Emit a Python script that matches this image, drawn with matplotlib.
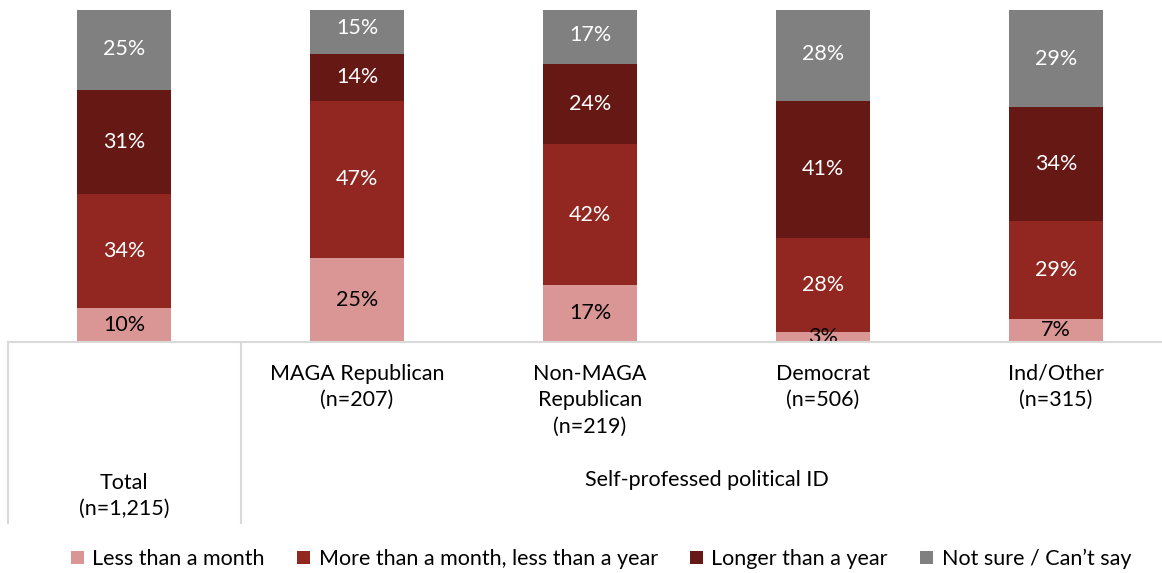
import matplotlib.pyplot as plt
from matplotlib.lines import Line2D
import numpy as np

plt.rcParams['font.family'] = ['Lato', 'DejaVu Sans']

# data
groups = ["Total\n(n=1,215)", "MAGA Republican\n(n=207)", "Non-MAGA\nRepublican\n(n=219)",
          "Democrat\n(n=506)", "Ind/Other\n(n=315)"]
series = ["Less than a month", "More than a month, less than a year",
          "Longer than a year", "Not sure / Can\u2019t say"]
less_month = [10, 25, 17, 3, 7]
month_year = [34, 47, 42, 28, 29]
over_year = [31, 14, 24, 41, 34]
not_sure = [25, 15, 17, 28, 29]
group_title = "Self-professed political ID"

colors = ["#DA9694", "#922620", "#661814", "#808080"]
text_colors = ["black", "white", "white", "white"]
fs = 15.5

W, H = 1162, 573
fig = plt.figure(figsize=(W / 100, H / 100), dpi=100)
ax = fig.add_axes([7.5 / W, (H - 342) / H, 1165 / W, 332 / H])

x = np.arange(len(groups))
bottom = np.zeros(len(groups))
for vals, name, c, tc in zip([less_month, month_year, over_year, not_sure], series, colors, text_colors):
    vals = np.array(vals, dtype=float)
    ax.bar(x, vals, 0.4, bottom=bottom, color=c, label=name, edgecolor='none')
    for xi, b, v in zip(x, bottom, vals):
        ax.text(xi, b + v / 2, f"{int(v)}%", ha='center', va='center', color=tc, fontsize=fs)
    bottom += vals

ax.set_xlim(-0.5, 4.5)
ax.set_ylim(0, 99)
for s in ax.spines.values():
    s.set_visible(False)
ax.set_xticks([])
ax.set_yticks([])

# category table below axis
line_kw = dict(color='#D9D9D9', lw=1.5, transform=fig.transFigure, clip_on=False)
fig.add_artist(Line2D([8 / W, 1], [(H - 342) / H, (H - 342) / H], **line_kw))
fig.add_artist(Line2D([8 / W, 8 / W], [(H - 342) / H, (H - 523) / H], **line_kw))
fig.add_artist(Line2D([241 / W, 241 / W], [(H - 342) / H, (H - 523) / H], **line_kw))

for xi, g in zip(x[1:], groups[1:]):
    ax.text(xi, -6.5, g, ha='center', va='top', fontsize=fs, linespacing=1.4)
ax.text(x[0], -39, groups[0], ha='center', va='top', fontsize=fs, linespacing=1.4)
ax.text(2.5, -38.3, group_title, ha='center', va='top', fontsize=fs)

fig.legend(loc='center', bbox_to_anchor=(601 / W, (H - 559) / H), ncol=4, frameon=False,
           fontsize=fs, handlelength=0.6, handleheight=0.6, handletextpad=0.4, columnspacing=1.5)

fig.savefig("out.png", dpi=100)
